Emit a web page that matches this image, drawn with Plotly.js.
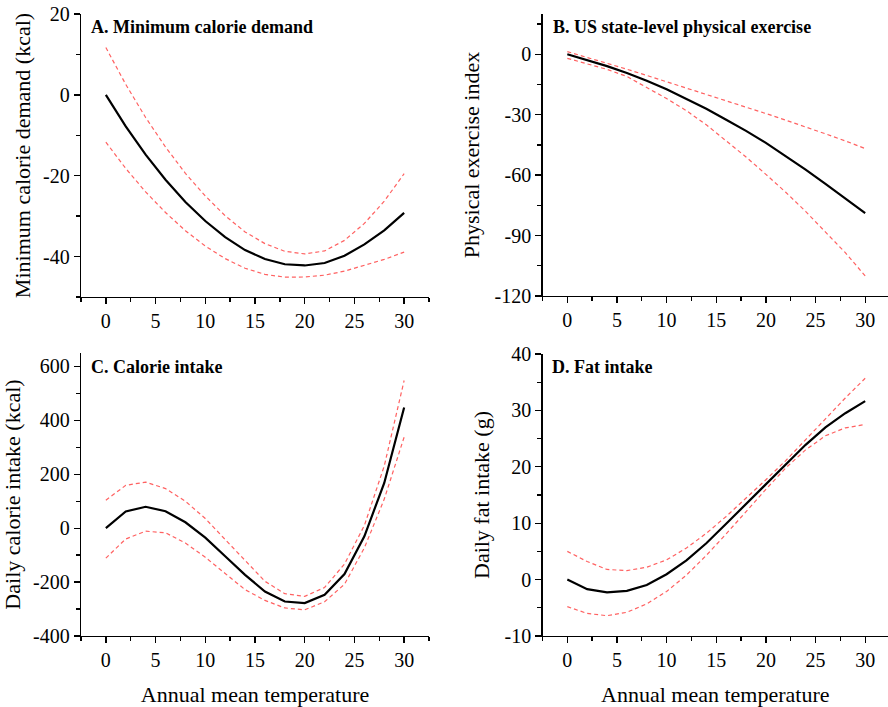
<!DOCTYPE html>
<html>
<head>
<meta charset="utf-8">
<script src="https://cdn.plot.ly/plotly-3.0.1.min.js"></script>
<style>html,body{margin:0;padding:0;background:#fff;}#chart{width:888px;height:707px;}</style>
</head>
<body>
<div id="chart"></div>
<script>
// Annual mean temperature (x) shared by all panels
const temperature = [0,2,4,6,8,10,12,14,16,18,20,22,24,26,28,30];

// A. Minimum calorie demand (kcal)
const demandMean  = [0,-7.8,-14.8,-21,-26.5,-31.2,-35.2,-38.4,-40.6,-41.9,-42.2,-41.6,-39.8,-37,-33.5,-29.2];
const demandUpper = [11.7,2.6,-5.6,-12.9,-19.4,-25,-29.9,-33.9,-36.8,-38.7,-39.35,-38.6,-36,-31.8,-26.3,-19.5];
const demandLower = [-11.7,-18.2,-24,-29.1,-33.6,-37.4,-40.5,-42.9,-44.4,-45.1,-45.05,-44.6,-43.6,-42.2,-40.7,-38.9];

// B. US state-level physical exercise index
const exerciseMean  = [0,-2.8,-5.9,-9.3,-13.1,-17.4,-22,-27,-32.5,-38,-44,-50.5,-57.3,-64.3,-71.5,-78.9];
const exerciseUpper = [1.3,-1.5,-4.4,-7.4,-10.5,-13.6,-16.7,-19.8,-23,-26.2,-29.4,-32.7,-36,-39.5,-43,-46.8];
const exerciseLower = [-2,-4.6,-7.5,-11,-16.3,-22,-28,-35,-43,-51,-59.6,-68.5,-78,-88,-98.5,-110];

// C. Daily calorie intake (kcal)
const calorieMean  = [0,62,79.5,63,22,-35,-104,-173,-235,-272,-278,-247,-170,-30,168,448];
const calorieUpper = [104,159,171,147,100,36,-42,-120,-197,-243,-253,-220,-133,10,231,548];
const calorieLower = [-111,-40,-11,-17,-55,-108,-168,-228,-268,-296,-303,-273,-208,-73,108,338];

// D. Daily fat intake (g)
const fatMean  = [0,-1.7,-2.25,-2,-0.95,0.95,3.4,6.45,9.9,13.4,16.9,20.5,23.9,27,29.5,31.65];
const fatUpper = [5,3.2,1.8,1.6,2.2,3.5,5.6,8.2,11.2,14.4,17.7,21.1,24.8,28.6,32.2,35.7];
const fatLower = [-4.8,-6,-6.4,-5.8,-4.3,-2.1,0.8,4.3,8.1,12.1,16,19.8,23,25.5,26.9,27.5];

// Tick values / labels
const xTicks = [0,5,10,15,20,25,30];
const yTicksA = [-40,-20,0,20];
const yTicksB = [-120,-90,-60,-30,0];
const yTicksC = [-400,-200,0,200,400,600];
const yTicksD = [-10,0,10,20,30,40];

// Panel titles and axis labels
const panelTitles = ["A. Minimum calorie demand","B. US state-level physical exercise","C. Calorie intake","D. Fat intake"];
const yTitles = ["Minimum calorie demand (kcal)","Physical exercise index","Daily calorie intake (kcal)","Daily fat intake (g)"];
const xTitle = "Annual mean temperature";

const panels = [
  {mean: demandMean, up: demandUpper, lo: demandLower, xa:'x', ya:'y'},
  {mean: exerciseMean, up: exerciseUpper, lo: exerciseLower, xa:'x2', ya:'y2'},
  {mean: calorieMean, up: calorieUpper, lo: calorieLower, xa:'x3', ya:'y3'},
  {mean: fatMean, up: fatUpper, lo: fatLower, xa:'x4', ya:'y4'}
];

const FONT = "Liberation Serif";
const RED = "rgba(255,80,80,0.9)";
const traces = [];
panels.forEach(p => {
  [p.up, p.lo].forEach(arr => traces.push({
    x: temperature, y: arr, xaxis: p.xa, yaxis: p.ya, mode: 'lines',
    line: {color: RED, width: 1.2, dash: '4px,3px'}, hoverinfo: 'skip'
  }));
  traces.push({
    x: temperature, y: p.mean, xaxis: p.xa, yaxis: p.ya, mode: 'lines',
    line: {color: '#000', width: 2.2}
  });
});

const lbl = v => String(v); // plain hyphen-minus as in the original

function xaxis(domain, range, showTitle) {
  return {
    domain: domain, range: range, showgrid: false, zeroline: false,
    showline: true, linecolor: '#000', linewidth: 1.3,
    ticks: 'outside', ticklen: 6, tickwidth: 1.3, tickcolor: '#000',
    tickmode: 'array', tickvals: xTicks, ticktext: xTicks.map(lbl),
    minor: {ticks: 'outside', ticklen: 4, tickwidth: 1.3, tickcolor: '#000', dtick: 2.5, tick0: -2.5},
    tickfont: {family: FONT, size: 20, color: '#000'},
    title: showTitle ? {text: xTitle, font: {family: FONT, size: 22, color: '#000'}, standoff: 16} : {text: ''},
    fixedrange: true
  };
}
function yaxis(domain, range, ticks, minor, title, standoff) {
  return {
    domain: domain, range: range, showgrid: false, zeroline: false,
    showline: true, linecolor: '#000', linewidth: 1.3,
    ticks: 'outside', ticklen: 6, tickwidth: 1.3, tickcolor: '#000',
    tickmode: 'array', tickvals: ticks, ticktext: ticks.map(lbl),
    minor: {ticks: 'outside', ticklen: 4, tickwidth: 1.3, tickcolor: '#000', dtick: minor, tick0: 0},
    tickfont: {family: FONT, size: 20, color: '#000'},
    title: {text: title, font: {family: FONT, size: 22, color: '#000'}, standoff: standoff},
    fixedrange: true
  };
}

const W = 888, H = 707;
const fx = px => px / W, fy = py => 1 - py / H;
const titleFont = {family: FONT, size: 18, color: '#000'};

const layout = {
  width: W, height: H,
  margin: {l: 0, r: 0, t: 0, b: 0},
  paper_bgcolor: '#fff', plot_bgcolor: '#fff',
  showlegend: false,
  font: {family: FONT, color: '#000'},
  xaxis:  Object.assign(xaxis([fx(81), fx(429)], [-2.5, 32.5], false), {anchor: 'y'}),
  yaxis:  Object.assign(yaxis([fy(297), fy(14)], [-50, 20], yTicksA, 10, yTitles[0], 6), {anchor: 'x'}),
  xaxis2: Object.assign(xaxis([fx(542.5), 1], [-2.5, 32.3], false), {anchor: 'y2'}),
  yaxis2: Object.assign(yaxis([fy(296), fy(14)], [-120, 20], yTicksB, 15, yTitles[1], 8), {anchor: 'x2'}),
  xaxis3: Object.assign(xaxis([fx(81), fx(429)], [-2.5, 32.5], true), {anchor: 'y3'}),
  yaxis3: Object.assign(yaxis([fy(636), fy(353)], [-400, 650], yTicksC, 100, yTitles[2], 6), {anchor: 'x3'}),
  xaxis4: Object.assign(xaxis([fx(542.5), 1], [-2.5, 32.3], true), {anchor: 'y4'}),
  yaxis4: Object.assign(yaxis([fy(636), fy(354)], [-10, 40], yTicksD, 5, yTitles[3], 8), {anchor: 'x4'}),
  annotations: [
    {text: '<b>' + panelTitles[0] + '</b>', x: fx(89), y: fy(27), xref: 'paper', yref: 'paper', xanchor: 'left', yanchor: 'middle', showarrow: false, font: titleFont},
    {text: '<b>' + panelTitles[1] + '</b>', x: fx(551), y: fy(27), xref: 'paper', yref: 'paper', xanchor: 'left', yanchor: 'middle', showarrow: false, font: titleFont},
    {text: '<b>' + panelTitles[2] + '</b>', x: fx(89), y: fy(367), xref: 'paper', yref: 'paper', xanchor: 'left', yanchor: 'middle', showarrow: false, font: titleFont},
    {text: '<b>' + panelTitles[3] + '</b>', x: fx(550), y: fy(367), xref: 'paper', yref: 'paper', xanchor: 'left', yanchor: 'middle', showarrow: false, font: titleFont}
  ]
};

Plotly.newPlot('chart', traces, layout, {displayModeBar: false, staticPlot: true});
</script>
</body>
</html>
